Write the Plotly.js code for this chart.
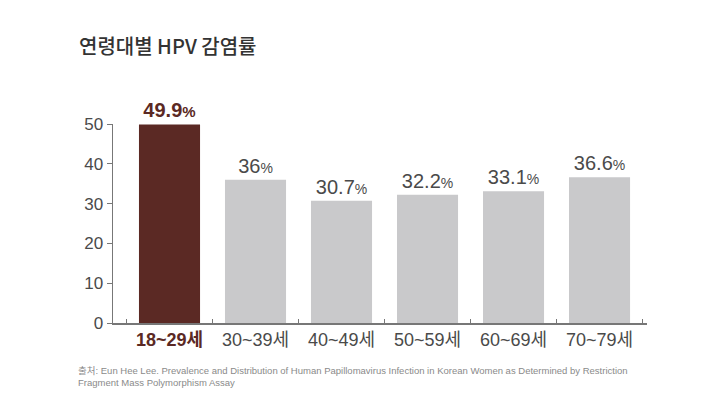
<!DOCTYPE html>
<html><head><meta charset="utf-8">
<script src="https://cdn.plot.ly/plotly-3.0.1.min.js"></script>
<style>html,body{margin:0;padding:0;background:#fff;}#chart{width:720px;height:407px;}</style>
</head><body><div id="chart"></div>
<script>
const categories = ["18~29세", "30~39세", "40~49세", "50~59세", "60~69세", "70~79세"];
const values = [49.9, 36, 30.7, 32.2, 33.1, 36.6];
const valueLabels = ["49.9", "36", "30.7", "32.2", "33.1", "36.6"];
const highlightIndex = 0;

const maroon = "#5b2924";
const grey = "#c9c9cb";
const textGrey = "#4a4a4a";
const fam = "'Liberation Sans', 'Noto Sans CJK KR', sans-serif";

const colors = categories.map((c, i) => i === highlightIndex ? maroon : grey);
const texts = valueLabels.map((v, i) => i === highlightIndex
  ? `<b>${v}<span style="font-size:15px">%</span></b>`
  : `${v}<span style="font-size:14px">%</span>`);
const textColors = categories.map((c, i) => i === highlightIndex ? maroon : textGrey);
const tickTexts = categories.map((c, i) => i === highlightIndex
  ? `<b><span style="color:${maroon}">${c}</span></b>`
  : c);

const trace = {
  type: "bar",
  x: categories,
  y: values,
  marker: { color: colors, line: { width: 0 } },
  width: 0.71,
  text: texts,
  textposition: "outside",
  cliponaxis: false,
  textfont: { family: fam, size: 20, color: textColors },
  hoverinfo: "none"
};

const layout = {
  width: 720, height: 407,
  margin: { l: 113, r: 73, t: 124, b: 84 },
  paper_bgcolor: "#fff", plot_bgcolor: "#fff",
  showlegend: false,
  font: { family: fam, color: textGrey },
  xaxis: {
    type: "category",
    range: [-0.657, 5.552],
    tickvals: categories,
    ticktext: tickTexts,
    tickson: "boundaries",
    ticks: "inside",
    ticklen: 4,
    tickcolor: "#777",
    showline: true, linecolor: "#777", linewidth: 1.5,
    showgrid: false, zeroline: false,
    tickfont: { family: fam, size: 18, color: textGrey },
    fixedrange: true
  },
  yaxis: {
    range: [0, 50],
    tickvals: [0, 10, 20, 30, 40, 50],
    ticks: "outside", ticklen: 5, tickcolor: "#777",
    showline: true, linecolor: "#777", linewidth: 1.5,
    showgrid: false, zeroline: false,
    tickfont: { family: fam, size: 17, color: textGrey },
    fixedrange: true
  },
  annotations: [
    {
      text: "연령대별 HPV 감염률",
      xref: "paper", yref: "paper", x: 0, y: 1,
      xanchor: "left", yanchor: "middle",
      xshift: -36, yshift: 79,
      showarrow: false,
      font: { family: "'Noto Sans CJK KR', sans-serif", size: 20, weight: 500, color: "#333" }
    },
    {
      text: "출처: Eun Hee Lee. Prevalence and Distribution of Human Papillomavirus Infection in Korean Women as Determined by Restriction<br>Fragment Mass Polymorphism Assay",
      xref: "paper", yref: "paper", x: 0, y: 0,
      xanchor: "left", yanchor: "top", align: "left",
      xshift: -37, yshift: -40,
      showarrow: false,
      font: { family: fam, size: 9.5, color: "#8a8a8a" }
    }
  ]
};

Plotly.newPlot("chart", [trace], layout, { displayModeBar: false, staticPlot: true });
</script></body></html>
